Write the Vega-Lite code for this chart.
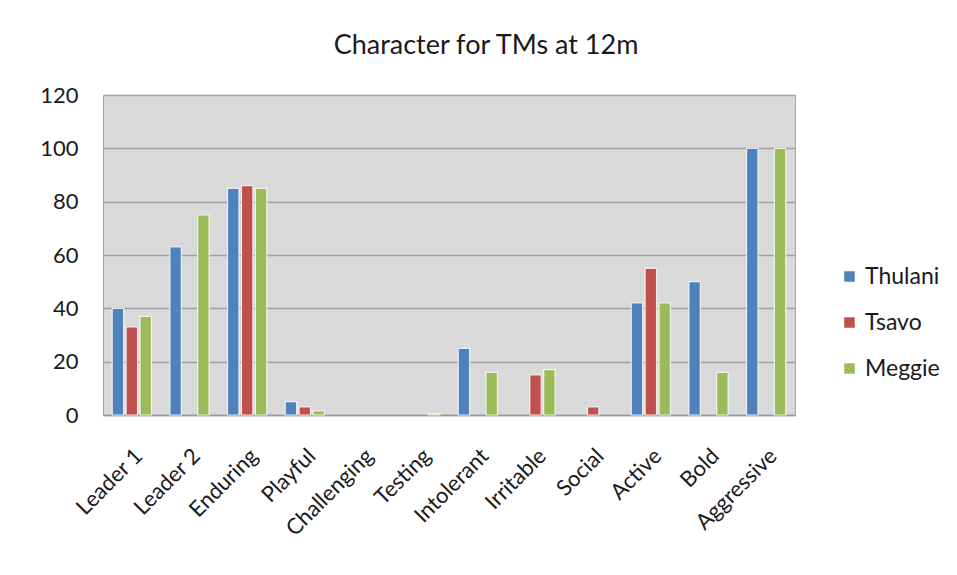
{
  "$schema": "https://vega.github.io/schema/vega-lite/v6.json",
  "width": 692,
  "height": 320,
  "autosize": {"type": "none"},
  "padding": {"left": 103, "top": 95, "right": 162, "bottom": 160},
  "background": "white",
  "title": {
    "text": "Character for TMs at 12m",
    "fontSize": 27,
    "font": "Lato",
    "fontWeight": "normal",
    "color": "#1a1a1a",
    "anchor": "middle",
    "dx": 37,
    "offset": 24
  },
  "data": {
    "values": [
      {"trait": "Leader 1", "elephant": "Thulani", "score": 40},
      {"trait": "Leader 1", "elephant": "Tsavo", "score": 33},
      {"trait": "Leader 1", "elephant": "Meggie", "score": 37},
      {"trait": "Leader 2", "elephant": "Thulani", "score": 63},
      {"trait": "Leader 2", "elephant": "Tsavo", "score": 0},
      {"trait": "Leader 2", "elephant": "Meggie", "score": 75},
      {"trait": "Enduring", "elephant": "Thulani", "score": 85},
      {"trait": "Enduring", "elephant": "Tsavo", "score": 86},
      {"trait": "Enduring", "elephant": "Meggie", "score": 85},
      {"trait": "Playful", "elephant": "Thulani", "score": 5},
      {"trait": "Playful", "elephant": "Tsavo", "score": 3},
      {"trait": "Playful", "elephant": "Meggie", "score": 1.5},
      {"trait": "Challenging", "elephant": "Thulani", "score": 0},
      {"trait": "Challenging", "elephant": "Tsavo", "score": 0},
      {"trait": "Challenging", "elephant": "Meggie", "score": 0},
      {"trait": "Testing", "elephant": "Thulani", "score": 0},
      {"trait": "Testing", "elephant": "Tsavo", "score": 0},
      {"trait": "Testing", "elephant": "Meggie", "score": 0.5},
      {"trait": "Intolerant", "elephant": "Thulani", "score": 25},
      {"trait": "Intolerant", "elephant": "Tsavo", "score": 0},
      {"trait": "Intolerant", "elephant": "Meggie", "score": 16},
      {"trait": "Irritable", "elephant": "Thulani", "score": 0},
      {"trait": "Irritable", "elephant": "Tsavo", "score": 15},
      {"trait": "Irritable", "elephant": "Meggie", "score": 17},
      {"trait": "Social", "elephant": "Thulani", "score": 0},
      {"trait": "Social", "elephant": "Tsavo", "score": 3},
      {"trait": "Social", "elephant": "Meggie", "score": 0},
      {"trait": "Active", "elephant": "Thulani", "score": 42},
      {"trait": "Active", "elephant": "Tsavo", "score": 55},
      {"trait": "Active", "elephant": "Meggie", "score": 42},
      {"trait": "Bold", "elephant": "Thulani", "score": 50},
      {"trait": "Bold", "elephant": "Tsavo", "score": 0},
      {"trait": "Bold", "elephant": "Meggie", "score": 16},
      {"trait": "Aggressive", "elephant": "Thulani", "score": 100},
      {"trait": "Aggressive", "elephant": "Tsavo", "score": 0},
      {"trait": "Aggressive", "elephant": "Meggie", "score": 100}
    ]
  },
  "mark": {"type": "bar", "stroke": "#ffffff", "strokeOpacity": 0.8},
  "encoding": {
    "x": {
      "field": "trait",
      "type": "nominal",
      "sort": null,
      "scale": {"paddingInner": 0.32, "paddingOuter": 0.16},
      "axis": {
        "title": null,
        "labelAngle": -45,
        "labelFontSize": 22,
        "labelFont": "Lato",
        "labelColor": "#1a1a1a",
        "labelPadding": 30,
        "ticks": false,
        "domainColor": "#9a9a9a",
        "domainWidth": 1.5
      }
    },
    "xOffset": {
      "field": "elephant",
      "type": "nominal",
      "sort": ["Thulani", "Tsavo", "Meggie"],
      "scale": {"paddingInner": 0.18}
    },
    "y": {
      "field": "score",
      "type": "quantitative",
      "scale": {"domain": [0, 120], "nice": false},
      "axis": {
        "title": null,
        "values": [0, 20, 40, 60, 80, 100, 120],
        "labelFontSize": 22,
        "labelFont": "Lato",
        "labelColor": "#1a1a1a",
        "labelPadding": 25,
        "ticks": false,
        "domain": false,
        "gridColor": "#a0a0a0",
        "gridWidth": 1.5
      }
    },
    "strokeWidth": {
      "condition": {"test": "datum.score > 0", "value": 1.2},
      "value": 0
    },
    "color": {
      "field": "elephant",
      "type": "nominal",
      "sort": ["Thulani", "Tsavo", "Meggie"],
      "scale": {"domain": ["Thulani", "Tsavo", "Meggie"], "range": ["#4f81bd", "#c0504d", "#9bbb59"]},
      "legend": {
        "title": null,
        "orient": "none",
        "legendX": 735,
        "legendY": 170,
        "symbolType": "square",
        "symbolSize": 110,
        "symbolStrokeWidth": 0,
        "labelFontSize": 23,
        "labelFont": "Lato",
        "labelColor": "#1a1a1a",
        "rowPadding": 22,
        "labelOffset": 4
      }
    }
  },
  "config": {
    "view": {"fill": "#d9d9d9", "stroke": "#a6a6a6", "strokeWidth": 1}
  }
}
